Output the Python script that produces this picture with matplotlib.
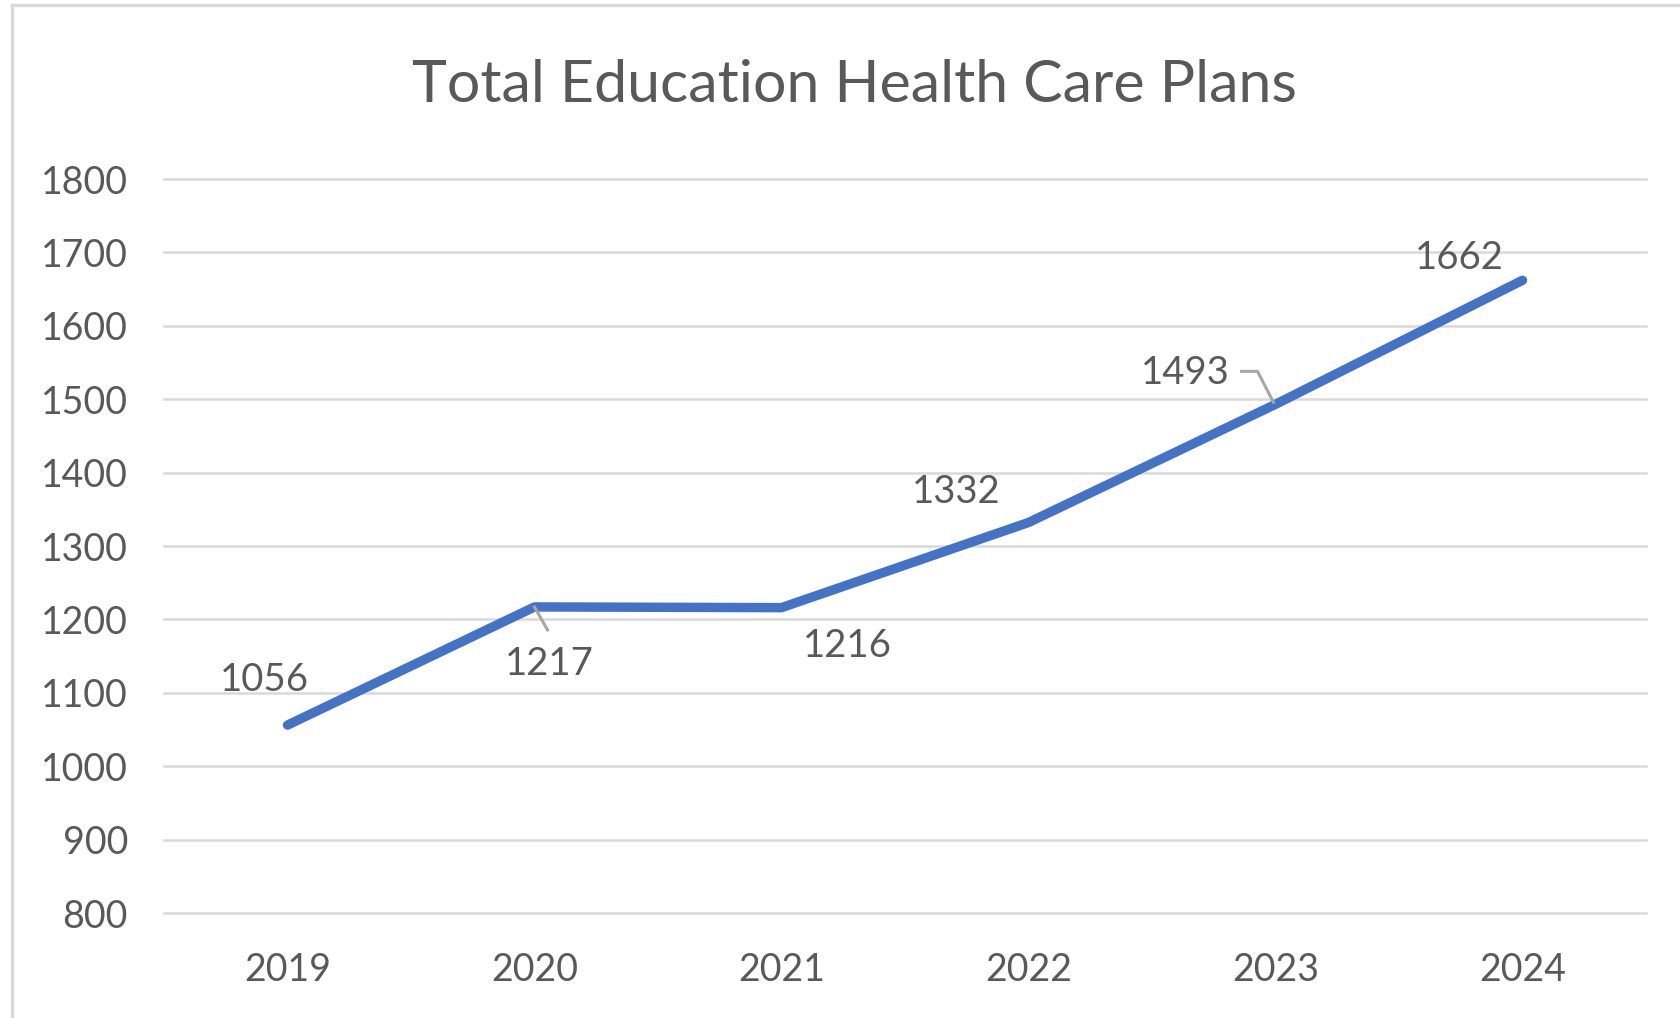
import matplotlib
matplotlib.use("Agg")
import matplotlib.pyplot as plt
from matplotlib.patches import Rectangle

years = ["2019", "2020", "2021", "2022", "2023", "2024"]
plans = [1056, 1217, 1216, 1332, 1493, 1662]
# label offsets in pixels from each point (dx, dy)
label_offsets = [(-23, 45), (15, -57), (66, -38), (-72, 31), (-90, 31), (-63, 22)]

text_col = "#595959"
grid_col = "#d9d9d9"
line_col = "#4472C4"

plt.rcParams["font.family"] = ["Lato", "DejaVu Sans"]

fig = plt.figure(figsize=(16.8, 10.18), dpi=100)
ax = fig.add_axes([164 / 1680, 105 / 1018, (1646 - 164) / 1680, (913 - 179) / 1018])

x = list(range(len(years)))
ax.plot(x, plans, color=line_col, lw=6.8, solid_capstyle="round", solid_joinstyle="round", zorder=3)

ax.set_xlim(-0.5, len(years) - 0.5)
ax.set_ylim(800, 1800)
ax.set_yticks(range(800, 1801, 100))
ax.set_xticks(x)
ax.set_xticklabels(years)
ax.grid(axis="y", color=grid_col, lw=1.8)
for gl in ax.get_ygridlines():
    gl.set_clip_on(False)
ax.set_axisbelow(True)
for s in ax.spines.values():
    s.set_visible(False)
ax.tick_params(axis="both", length=0, labelsize=27, colors=text_col)
ax.tick_params(axis="y", pad=26)
ax.tick_params(axis="x", pad=28)

for i, (v, (dx, dy)) in enumerate(zip(plans, label_offsets)):
    ax.annotate(str(v), (i, v), xytext=(dx, dy), textcoords="offset pixels",
                ha="center", va="center", fontsize=27.5, color=text_col)

# leader lines for 2020 and 2023 labels
px, py = ax.transData.transform((1, plans[1]))
fig.add_artist(plt.Line2D([px, px + 13], [py, py - 23], transform=None, color="#a6a6a6", lw=2.2))
px, py = ax.transData.transform((4, plans[4]))
fig.add_artist(plt.Line2D([px - 34, px - 18, px - 2], [py + 33, py + 33, py + 2], transform=None,
                          color="#a6a6a6", lw=2.2))

fig.text(854 / 1680, 1 - 86 / 1018, "Total Education Health Care Plans", ha="center", va="center",
         fontsize=42.5, color=text_col)

fig.add_artist(Rectangle((12 / 1680, -0.1), 1.2, 1 - 5 / 1018 + 0.1, transform=fig.transFigure,
                         fill=False, ec=grid_col, lw=2.4))

fig.savefig("out.png", dpi=100)
